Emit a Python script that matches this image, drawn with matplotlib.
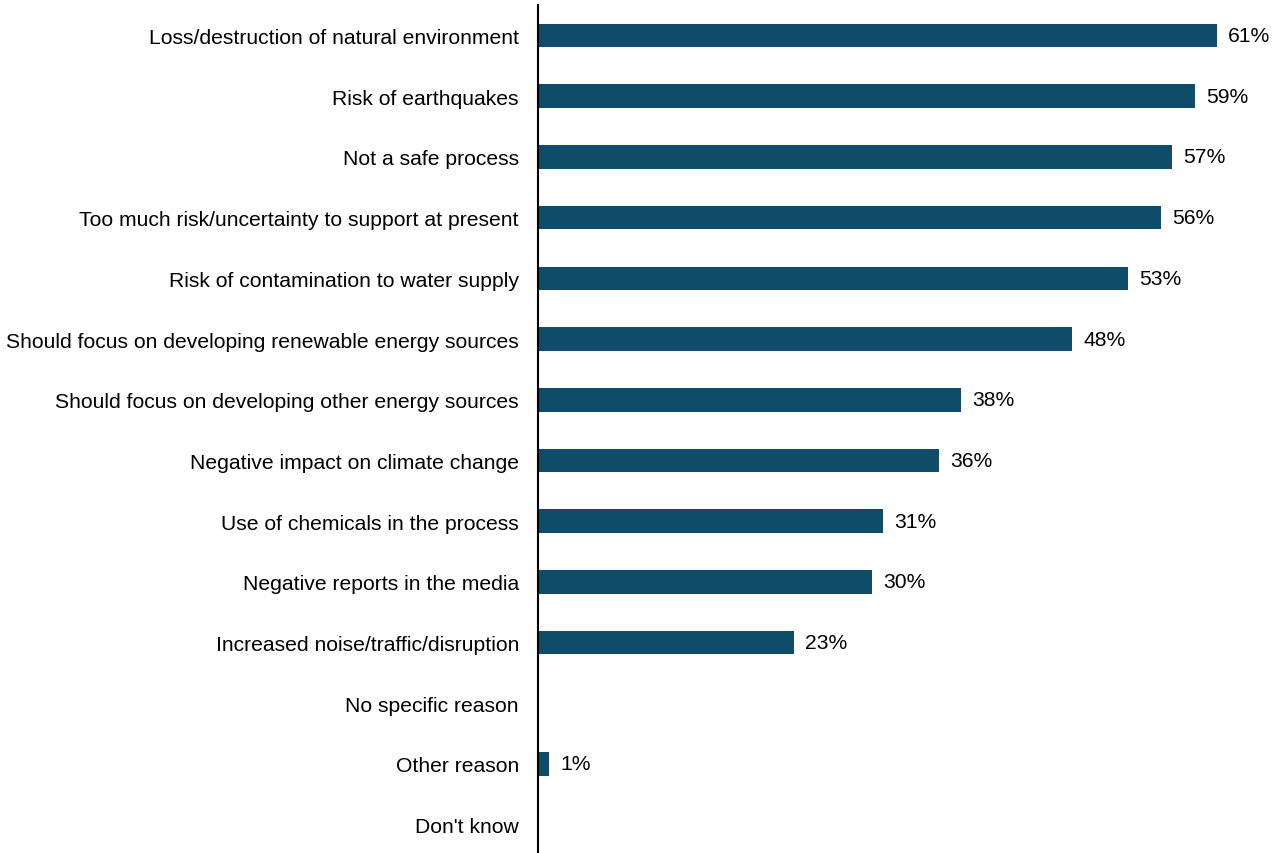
import matplotlib
matplotlib.use("Agg")
import matplotlib.pyplot as plt
import numpy as np

plt.rcParams['font.family'] = ['Liberation Sans', 'DejaVu Sans']

reasons = [
    "Loss/destruction of natural environment",
    "Risk of earthquakes",
    "Not a safe process",
    "Too much risk/uncertainty to support at present",
    "Risk of contamination to water supply",
    "Should focus on developing renewable energy sources",
    "Should focus on developing other energy sources",
    "Negative impact on climate change",
    "Use of chemicals in the process",
    "Negative reports in the media",
    "Increased noise/traffic/disruption",
    "No specific reason",
    "Other reason",
    "Don't know",
]
shares = [61, 59, 57, 56, 53, 48, 38, 36, 31, 30, 23, 0, 1, 0]

bar_color = "#0F4C69"
font_size = 15.2

fig = plt.figure(figsize=(12.81, 8.54), dpi=100)
ax = fig.add_axes([0.42, -0.002, 0.5734, 0.9946])

y = np.arange(len(reasons))
ax.barh(y, shares, height=0.39, color=bar_color)

for yi, v in zip(y, shares):
    if v > 0:
        ax.annotate(f"{v}%", xy=(v, yi), xytext=(8, 0), textcoords="offset points",
                    ha="left", va="center", fontsize=font_size, color="#000000")

ax.set_yticks(y)
ax.set_yticklabels(reasons, fontsize=font_size)
ax.set_ylim(len(reasons) - 0.5, -0.5)
ax.set_xlim(0, 66)
ax.set_xticks([])
ax.tick_params(axis="y", length=0, pad=13.7)

for side in ["top", "right", "bottom"]:
    ax.spines[side].set_visible(False)
ax.spines["left"].set_linewidth(1.5)
ax.spines["left"].set_color("#000000")

fig.savefig("out.png", dpi=100)
